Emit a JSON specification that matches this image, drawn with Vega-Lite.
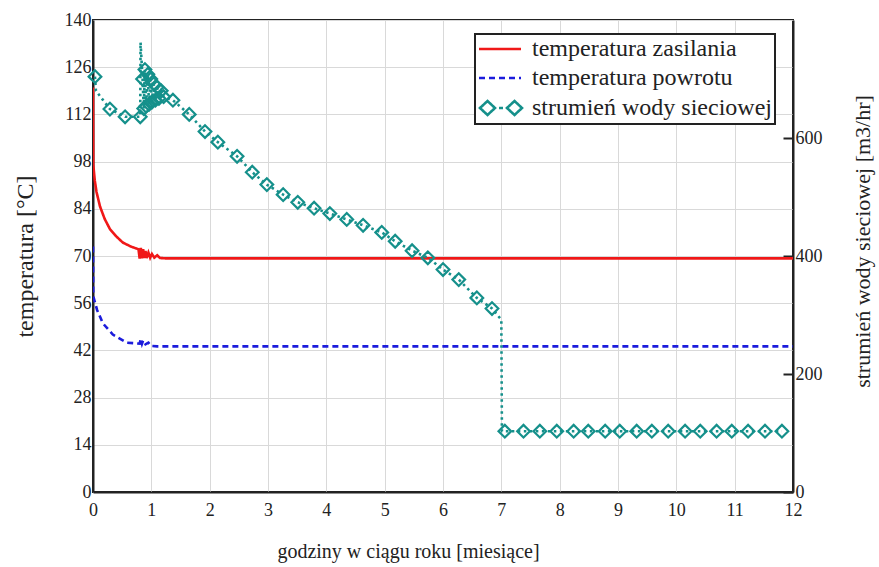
{
  "$schema": "https://vega.github.io/schema/vega-lite/v6.json",
  "autosize": {"type": "none"},
  "padding": {"left": 93, "top": 20, "right": 86, "bottom": 75},
  "width": 700,
  "height": 472,
  "background": "white",
  "config": {
    "font": "Liberation Serif",
    "view": {"stroke": "#222", "strokeWidth": 2},
    "axis": {
      "labelFont": "Liberation Serif",
      "titleFont": "Liberation Serif",
      "labelFontSize": 18,
      "titleFontWeight": "normal",
      "labelColor": "#222",
      "titleColor": "#222",
      "gridColor": "#d9d9d9",
      "gridWidth": 1,
      "domainColor": "#222",
      "domainWidth": 2
    },
    "legend": {
      "labelFont": "Liberation Serif",
      "labelFontSize": 24,
      "labelColor": "#222",
      "labelLimit": 400
    }
  },
  "data": {
    "values": [
      {"series": "temperatura zasilania", "month": 0, "value": 120},
      {"series": "temperatura zasilania", "month": 0.005, "value": 97},
      {"series": "temperatura zasilania", "month": 0.03, "value": 92.5},
      {"series": "temperatura zasilania", "month": 0.06, "value": 89},
      {"series": "temperatura zasilania", "month": 0.12, "value": 84.7},
      {"series": "temperatura zasilania", "month": 0.2, "value": 81},
      {"series": "temperatura zasilania", "month": 0.29, "value": 78},
      {"series": "temperatura zasilania", "month": 0.4, "value": 75.8},
      {"series": "temperatura zasilania", "month": 0.51, "value": 74},
      {"series": "temperatura zasilania", "month": 0.65, "value": 72.8},
      {"series": "temperatura zasilania", "month": 0.78, "value": 72},
      {"series": "temperatura zasilania", "month": 0.8, "value": 69.2},
      {"series": "temperatura zasilania", "month": 0.82, "value": 72.4},
      {"series": "temperatura zasilania", "month": 0.84, "value": 69.3},
      {"series": "temperatura zasilania", "month": 0.86, "value": 72},
      {"series": "temperatura zasilania", "month": 0.88, "value": 69.4},
      {"series": "temperatura zasilania", "month": 0.9, "value": 71.5},
      {"series": "temperatura zasilania", "month": 0.92, "value": 69.4},
      {"series": "temperatura zasilania", "month": 0.95, "value": 71},
      {"series": "temperatura zasilania", "month": 0.98, "value": 69.5},
      {"series": "temperatura zasilania", "month": 1.01, "value": 70.6},
      {"series": "temperatura zasilania", "month": 1.05, "value": 69.5},
      {"series": "temperatura zasilania", "month": 1.1, "value": 70.2},
      {"series": "temperatura zasilania", "month": 1.15, "value": 69.4},
      {"series": "temperatura zasilania", "month": 1.25, "value": 69.3},
      {"series": "temperatura zasilania", "month": 12, "value": 69.3},
      {"series": "temperatura powrotu", "month": 0, "value": 72.8},
      {"series": "temperatura powrotu", "month": 0.003, "value": 60},
      {"series": "temperatura powrotu", "month": 0.01, "value": 57.7},
      {"series": "temperatura powrotu", "month": 0.07, "value": 54},
      {"series": "temperatura powrotu", "month": 0.17, "value": 50},
      {"series": "temperatura powrotu", "month": 0.34, "value": 46.7},
      {"series": "temperatura powrotu", "month": 0.58, "value": 44.3},
      {"series": "temperatura powrotu", "month": 0.8, "value": 44},
      {"series": "temperatura powrotu", "month": 0.82, "value": 45.5},
      {"series": "temperatura powrotu", "month": 0.84, "value": 44},
      {"series": "temperatura powrotu", "month": 0.86, "value": 45},
      {"series": "temperatura powrotu", "month": 0.9, "value": 43.8},
      {"series": "temperatura powrotu", "month": 0.95, "value": 44.3},
      {"series": "temperatura powrotu", "month": 1.0, "value": 43.3},
      {"series": "temperatura powrotu", "month": 1.1, "value": 43.2},
      {"series": "temperatura powrotu", "month": 12, "value": 43.2},
      {"series": "strumień wody sieciowej", "month": 0.034, "value": 704, "marker": 1},
      {"series": "strumień wody sieciowej", "month": 0.05, "value": 680, "marker": 0},
      {"series": "strumień wody sieciowej", "month": 0.29, "value": 649, "marker": 1},
      {"series": "strumień wody sieciowej", "month": 0.55, "value": 636, "marker": 1},
      {"series": "strumień wody sieciowej", "month": 0.81, "value": 636, "marker": 1},
      {"series": "strumień wody sieciowej", "month": 0.815, "value": 762, "marker": 0},
      {"series": "strumień wody sieciowej", "month": 0.85, "value": 700, "marker": 1},
      {"series": "strumień wody sieciowej", "month": 0.87, "value": 650, "marker": 1},
      {"series": "strumień wody sieciowej", "month": 0.89, "value": 716, "marker": 1},
      {"series": "strumień wody sieciowej", "month": 0.91, "value": 654, "marker": 1},
      {"series": "strumień wody sieciowej", "month": 0.94, "value": 708, "marker": 1},
      {"series": "strumień wody sieciowej", "month": 0.96, "value": 657, "marker": 1},
      {"series": "strumień wody sieciowej", "month": 0.99, "value": 700, "marker": 1},
      {"series": "strumień wody sieciowej", "month": 1.01, "value": 661, "marker": 1},
      {"series": "strumień wody sieciowej", "month": 1.04, "value": 692, "marker": 1},
      {"series": "strumień wody sieciowej", "month": 1.07, "value": 664, "marker": 1},
      {"series": "strumień wody sieciowej", "month": 1.1, "value": 686, "marker": 1},
      {"series": "strumień wody sieciowej", "month": 1.13, "value": 667, "marker": 1},
      {"series": "strumień wody sieciowej", "month": 1.17, "value": 680, "marker": 1},
      {"series": "strumień wody sieciowej", "month": 1.21, "value": 670, "marker": 1},
      {"series": "strumień wody sieciowej", "month": 1.37, "value": 664, "marker": 1},
      {"series": "strumień wody sieciowej", "month": 1.65, "value": 640, "marker": 1},
      {"series": "strumień wody sieciowej", "month": 1.92, "value": 611, "marker": 1},
      {"series": "strumień wody sieciowej", "month": 2.14, "value": 593, "marker": 1},
      {"series": "strumień wody sieciowej", "month": 2.47, "value": 569, "marker": 1},
      {"series": "strumień wody sieciowej", "month": 2.73, "value": 542, "marker": 1},
      {"series": "strumień wody sieciowej", "month": 2.98, "value": 521, "marker": 1},
      {"series": "strumień wody sieciowej", "month": 3.26, "value": 504, "marker": 1},
      {"series": "strumień wody sieciowej", "month": 3.51, "value": 491, "marker": 1},
      {"series": "strumień wody sieciowej", "month": 3.79, "value": 481, "marker": 1},
      {"series": "strumień wody sieciowej", "month": 4.06, "value": 472, "marker": 1},
      {"series": "strumień wody sieciowej", "month": 4.35, "value": 462, "marker": 1},
      {"series": "strumień wody sieciowej", "month": 4.63, "value": 452, "marker": 1},
      {"series": "strumień wody sieciowej", "month": 4.95, "value": 440, "marker": 1},
      {"series": "strumień wody sieciowej", "month": 5.18, "value": 425, "marker": 1},
      {"series": "strumień wody sieciowej", "month": 5.47, "value": 409, "marker": 1},
      {"series": "strumień wody sieciowej", "month": 5.74, "value": 397, "marker": 1},
      {"series": "strumień wody sieciowej", "month": 6.0, "value": 377, "marker": 1},
      {"series": "strumień wody sieciowej", "month": 6.27, "value": 360, "marker": 1},
      {"series": "strumień wody sieciowej", "month": 6.58, "value": 329, "marker": 1},
      {"series": "strumień wody sieciowej", "month": 6.84, "value": 311, "marker": 1},
      {"series": "strumień wody sieciowej", "month": 7.0, "value": 292, "marker": 0},
      {"series": "strumień wody sieciowej", "month": 7.01, "value": 103, "marker": 0},
      {"series": "strumień wody sieciowej", "month": 7.06, "value": 103, "marker": 1},
      {"series": "strumień wody sieciowej", "month": 7.38, "value": 103, "marker": 1},
      {"series": "strumień wody sieciowej", "month": 7.66, "value": 103, "marker": 1},
      {"series": "strumień wody sieciowej", "month": 7.95, "value": 103, "marker": 1},
      {"series": "strumień wody sieciowej", "month": 8.24, "value": 103, "marker": 1},
      {"series": "strumień wody sieciowej", "month": 8.49, "value": 103, "marker": 1},
      {"series": "strumień wody sieciowej", "month": 8.78, "value": 103, "marker": 1},
      {"series": "strumień wody sieciowej", "month": 9.03, "value": 103, "marker": 1},
      {"series": "strumień wody sieciowej", "month": 9.32, "value": 103, "marker": 1},
      {"series": "strumień wody sieciowej", "month": 9.58, "value": 103, "marker": 1},
      {"series": "strumień wody sieciowej", "month": 9.86, "value": 103, "marker": 1},
      {"series": "strumień wody sieciowej", "month": 10.15, "value": 103, "marker": 1},
      {"series": "strumień wody sieciowej", "month": 10.41, "value": 103, "marker": 1},
      {"series": "strumień wody sieciowej", "month": 10.69, "value": 103, "marker": 1},
      {"series": "strumień wody sieciowej", "month": 10.95, "value": 103, "marker": 1},
      {"series": "strumień wody sieciowej", "month": 11.23, "value": 103, "marker": 1},
      {"series": "strumień wody sieciowej", "month": 11.52, "value": 103, "marker": 1},
      {"series": "strumień wody sieciowej", "month": 11.81, "value": 103, "marker": 1}
    ]
  },
  "encoding": {
    "x": {
      "field": "month",
      "type": "quantitative",
      "scale": {"domain": [0, 12], "nice": false, "zero": false},
      "axis": {
        "values": [0, 1, 2, 3, 4, 5, 6, 7, 8, 9, 10, 11, 12],
        "format": "d",
        "ticks": false,
        "labelPadding": 9,
        "labelFlush": false,
        "labelFont": "Liberation Serif",
        "titleFont": "Liberation Serif",
        "title": "godziny w ciągu roku [miesiące]",
        "titleFontSize": 20,
        "titlePadding": 22,
        "titleX": 315,
        "grid": true
      }
    }
  },
  "layer": [
    {
      "transform": [{"filter": "datum.series !== 'strumień wody sieciowej'"}],
      "mark": {"type": "line", "strokeWidth": 2.6, "clip": true},
      "encoding": {
        "y": {
          "field": "value",
          "type": "quantitative",
          "scale": {"domain": [0, 140], "nice": false},
          "axis": {
            "orient": "left",
            "values": [0, 14, 28, 42, 56, 70, 84, 98, 112, 126, 140],
            "ticks": false,
            "labelPadding": 2,
            "labelFont": "Liberation Serif",
            "titleFont": "Liberation Serif",
            "title": "temperatura [°C]",
            "titleFontSize": 24,
            "titlePadding": 27,
            "grid": true
          }
        },
        "color": {
          "field": "series",
          "type": "nominal",
          "scale": {
            "domain": ["temperatura zasilania", "temperatura powrotu", "strumień wody sieciowej"],
            "range": ["#f01818", "#1c1cdc", "#15908b"]
          },
          "legend": {
            "title": null,
            "orient": "none",
            "legendX": 382,
            "legendY": 14,
            "strokeColor": "#222",
            "fillColor": "white",
            "padding": 3,
            "rowPadding": 5,
            "symbolSize": 400,
            "symbolStrokeWidth": 2.6,
            "labelOffset": 30,
            "labelLimit": 400,
            "labelFont": "Liberation Serif",
            "encode": {
              "legend": {
                "update": {"strokeWidth": {"value": 2}}
              },
              "symbols": {
                "update": {
                  "shape": {"signal": "datum.value === 'strumień wody sieciowej' ? 'M-1,0L-0.25,-0.7L0.5,0L-0.25,0.7Z M0.9,0H1.3 M1.7,0L2.45,-0.7L3.2,0L2.45,0.7Z' : 'M-1.1,0H3.1'"},
                  "fill": {"value": "transparent"}
                }
              }
            }
          }
        },
        "strokeDash": {
          "field": "series",
          "type": "nominal",
          "scale": {
            "domain": ["temperatura zasilania", "temperatura powrotu", "strumień wody sieciowej"],
            "range": [[1, 0], [6, 4], [1, 0]]
          },
          "legend": null
        }
      }
    },
    {
      "transform": [{"filter": "datum.series === 'strumień wody sieciowej'"}],
      "encoding": {
        "y": {
          "field": "value",
          "type": "quantitative",
          "scale": {"domain": [0, 800], "nice": false},
          "axis": {
            "orient": "right",
            "values": [0, 200, 400, 600],
            "grid": false,
            "tickSize": -10,
            "tickColor": "#222",
            "tickWidth": 2,
            "labelPadding": 12,
            "labelFont": "Liberation Serif",
            "titleFont": "Liberation Serif",
            "title": "strumień wody sieciowej [m3/hr]",
            "titleFontSize": 22,
            "titleAngle": 270,
            "titleBaseline": "bottom",
            "titlePadding": 52,
            "titleY": 221
          }
        }
      },
      "layer": [
        {
          "mark": {"type": "line", "strokeWidth": 2.6, "strokeDash": [2.5, 3.5], "clip": true},
          "encoding": {
            "color": {"field": "series", "type": "nominal"}
          }
        },
        {
          "transform": [{"filter": "datum.marker === 1"}],
          "mark": {"type": "point", "shape": "diamond", "filled": false, "stroke": "#15908b", "strokeWidth": 2.2, "size": 160, "opacity": 1},
          "encoding": {}
        }
      ]
    }
  ],
  "resolve": {"scale": {"y": "independent"}}
}
